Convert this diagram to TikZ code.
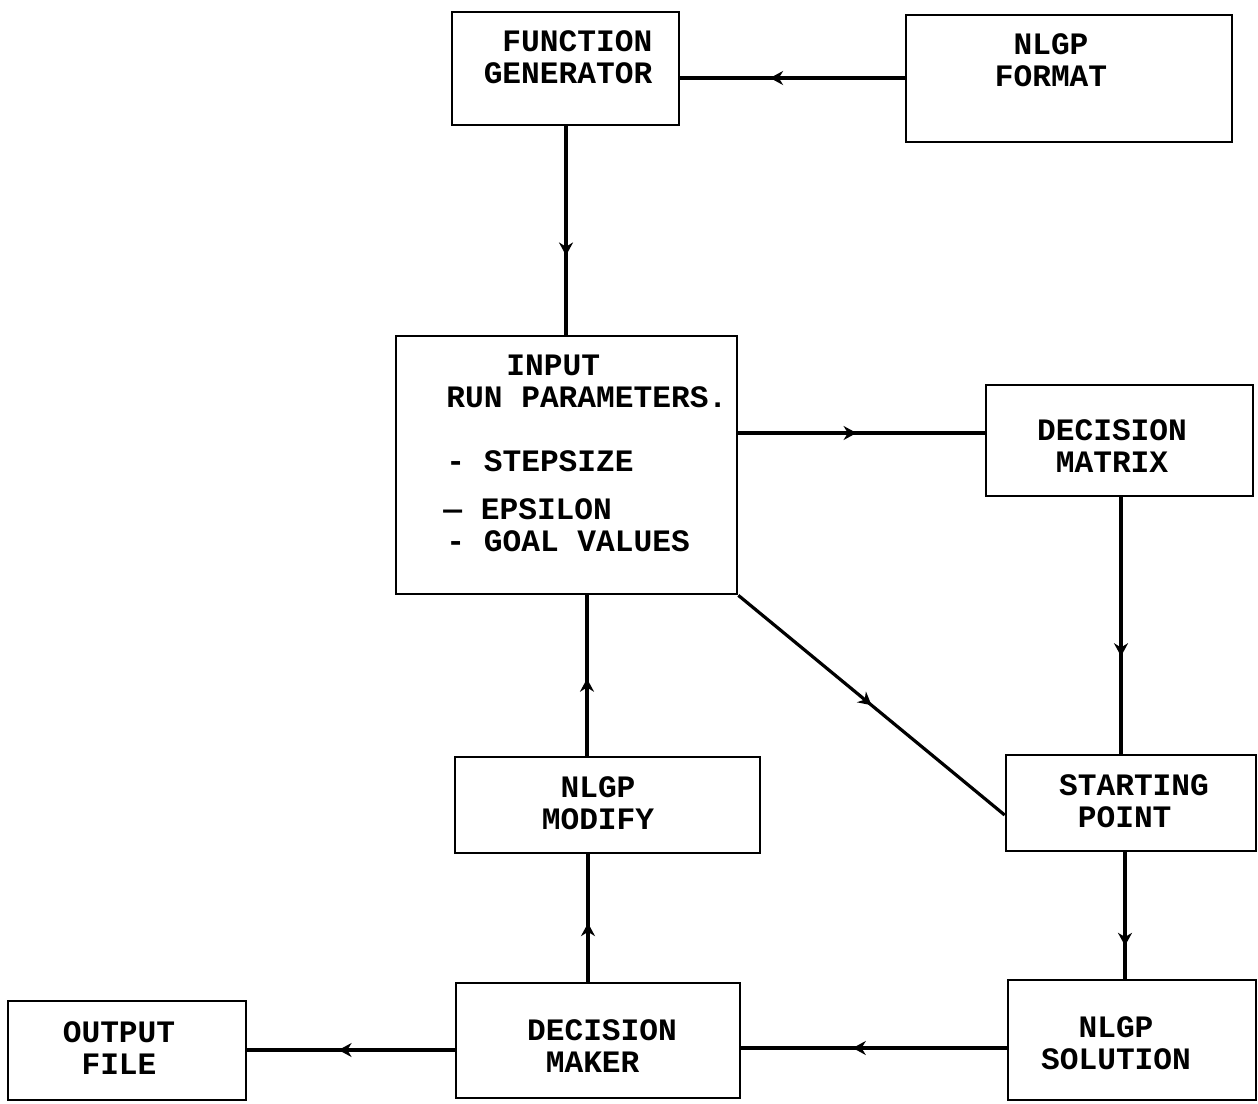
\documentclass[tikz,border=0pt]{standalone}
\usepackage{fontspec}
\newfontfamily\tw{Liberation Mono}
\usetikzlibrary{arrows.meta,decorations.markings}
\begin{document}
\begin{tikzpicture}[x=0.5pt,y=-0.5pt,
  box/.style={draw,line width=1.35pt,rectangle,inner sep=0pt},
  txt/.style={font=\tw\bfseries\fontsize{15.6pt}{16pt}\selectfont,align=center,inner sep=0pt},
  ltxtb/.style={font=\tw\bfseries\fontsize{15.6pt}{16pt}\selectfont,align=left,inner sep=0pt},
  ltxt/.style={font=\tw\bfseries\fontsize{15.6pt}{16pt}\selectfont,anchor=base west,inner sep=0pt},
  conn/.style={line width=1.6pt},
  midarrow/.style={conn,postaction={decorate},decoration={markings,mark=at position #1 with {\arrow{Stealth[length=6.5pt,width=7pt]}}}}
]
\useasboundingbox (0,0) rectangle (1258,1103);

% boxes
\node[box,minimum width=113.5pt,minimum height=56.5pt] (fg) at (565.5,68.5) {};
\node[box,minimum width=163pt,minimum height=63.5pt] (nf) at (1069,78.5) {};
\node[box,minimum width=170.5pt,minimum height=129pt] (inp) at (566.5,465) {};
\node[box,minimum width=133.5pt,minimum height=55.5pt] (dm) at (1119.5,440.5) {};
\node[box,minimum width=125pt,minimum height=48pt] (sp) at (1131,803) {};
\node[box,minimum width=124pt,minimum height=60pt] (ns) at (1132,1040) {};
\node[box,minimum width=142pt,minimum height=57.5pt] (dmk) at (598,1040.5) {};
\node[box,minimum width=119pt,minimum height=49.5pt] (of) at (127,1050.5) {};
\node[box,minimum width=152.5pt,minimum height=48pt] (mod) at (607.5,805) {};

% texts
\node[ltxtb] (fgt) at (568,57.5) {\ FUNCTION\\GENERATOR};
\node[txt] (nft) at (1051,60.5) {NLGP\\FORMAT};
\node[txt] (dmt) at (1112,446.5) {DECISION\\MATRIX};
\node[ltxtb] (spt) at (1134,801) {STARTING\\\ POINT};
\node[txt] (nst) at (1116,1043) {NLGP\\SOLUTION};
\node[ltxtb] (dmkt) at (602,1046.5) {DECISION\\\ MAKER};
\node[txt] (oft) at (119,1048.5) {OUTPUT\\FILE};
\node[txt] (modt) at (598,803) {NLGP\\MODIFY};

\node[ltxt] (i1) at (506,375) {INPUT};
\node[ltxt] (i2) at (446,407) {RUN PARAMETERS.};
\node[ltxt] (i3) at (446,471) {- STEPSIZE};
\node[ltxt] (i4) at (443,519) {\char"2014\ EPSILON};
\node[ltxt] (i5) at (446,551) {- GOAL VALUES};

% connectors
\draw[midarrow=0.6] (nf.west |- 0,78) -- (fg.east |- 0,78);
\draw[midarrow=0.62] (566,0 |- fg.south) -- (566,0 |- inp.north);
\draw[midarrow=0.48] (inp.east |- 0,433) -- (dm.west |- 0,433);
\draw[midarrow=0.62] (1121,0 |- dm.south) -- (1121,0 |- sp.north);
\draw[midarrow=0.5] (inp.south east) -- (sp.west |- 0,815);
\draw[midarrow=0.74] (1125,0 |- sp.south) -- (1125,0 |- ns.north);
\draw[midarrow=0.58] (ns.west |- 0,1048) -- (dmk.east |- 0,1048);
\draw[midarrow=0.56] (dmk.west |- 0,1050) -- (of.east |- 0,1050);
\draw[midarrow=0.46] (588,0 |- dmk.north) -- (588,0 |- mod.south);
\draw[midarrow=0.48] (587,0 |- mod.north) -- (587,0 |- inp.south);
\end{tikzpicture}
\end{document}
